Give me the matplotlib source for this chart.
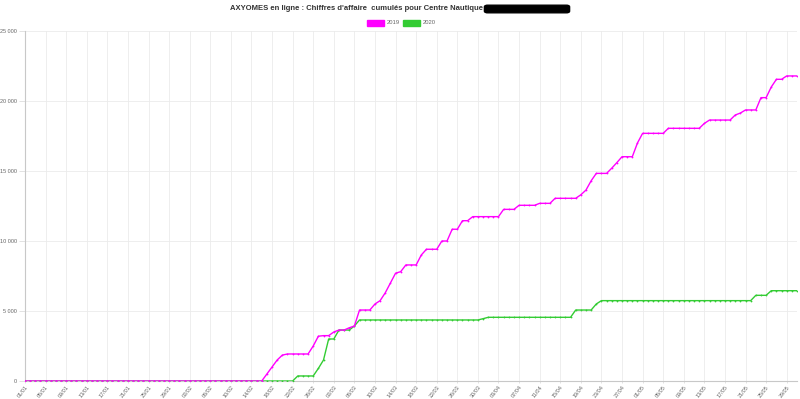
import pandas as pd
import matplotlib
matplotlib.use("Agg")
import matplotlib.pyplot as plt
from matplotlib.patches import FancyBboxPatch, Rectangle
from matplotlib.ticker import FuncFormatter

plt.rcParams["font.family"] = ["Liberation Sans", "DejaVu Sans"]

# daily labels 01/01 -> 31/05 (category axis)
dates = pd.date_range("2019-01-01", "2019-05-31", freq="D")
day_labels = [d.strftime("%d/%m") for d in dates]

# cumulated turnover, one value per day
ca_2019 = [
    0, 0, 0, 0, 0, 0, 0, 0, 0, 0,
    0, 0, 0, 0, 0, 0, 0, 0, 0, 0,
    0, 0, 0, 0, 0, 0, 0, 0, 0, 0,
    0, 0, 0, 0, 0, 0, 0, 0, 0, 0,
    0, 0, 0, 0, 0, 0, 0, 500, 1000, 1500,
    1850, 1930, 1930, 1930, 1930, 1930, 2500, 3200, 3240, 3240,
    3500, 3640, 3640, 3800, 3930, 5070, 5070, 5070, 5500, 5740,
    6300, 7000, 7700, 7810, 8290, 8290, 8290, 9000, 9410, 9410,
    9410, 10000, 10000, 10840, 10840, 11450, 11450, 11740, 11740, 11740,
    11740, 11740, 11740, 12260, 12260, 12260, 12550, 12550, 12550, 12550,
    12690, 12690, 12690, 13050, 13050, 13050, 13050, 13050, 13300, 13640,
    14300, 14830, 14830, 14830, 15200, 15600, 16020, 16020, 16020, 17000,
    17690, 17690, 17690, 17690, 17690, 18050, 18050, 18050, 18050, 18050,
    18050, 18050, 18400, 18640, 18640, 18640, 18640, 18640, 19000, 19140,
    19360, 19360, 19360, 20240, 20240, 21000, 21550, 21550, 21790, 21790,
    21790,
]
ca_2020 = [
    0, 0, 0, 0, 0, 0, 0, 0, 0, 0,
    0, 0, 0, 0, 0, 0, 0, 0, 0, 0,
    0, 0, 0, 0, 0, 0, 0, 0, 0, 0,
    0, 0, 0, 0, 0, 0, 0, 0, 0, 0,
    0, 0, 0, 0, 0, 0, 0, 0, 0, 0,
    0, 0, 0, 360, 360, 360, 360, 900, 1500, 3000,
    3000, 3640, 3640, 3640, 3930, 4360, 4360, 4360, 4360, 4360,
    4360, 4360, 4360, 4360, 4360, 4360, 4360, 4360, 4360, 4360,
    4360, 4360, 4360, 4360, 4360, 4360, 4360, 4360, 4360, 4450,
    4550, 4550, 4550, 4550, 4550, 4550, 4550, 4550, 4550, 4550,
    4550, 4550, 4550, 4550, 4550, 4550, 4550, 5070, 5070, 5070,
    5070, 5500, 5740, 5740, 5740, 5740, 5740, 5740, 5740, 5740,
    5740, 5740, 5740, 5740, 5740, 5740, 5740, 5740, 5740, 5740,
    5740, 5740, 5740, 5740, 5740, 5740, 5740, 5740, 5740, 5740,
    5740, 5740, 6120, 6120, 6120, 6450, 6450, 6450, 6450, 6450,
    6450,
]
assert len(ca_2019) == len(day_labels) == len(ca_2020)

y_ticks = [0, 5000, 10000, 15000, 20000, 25000]
COL_2019 = "#ff00ff"
COL_2020 = "#33cc33"

fig = plt.figure(figsize=(8.0, 3.99), dpi=100)
ax = fig.add_axes([25 / 800, 18 / 399, 772 / 800, 350 / 399])

x = list(range(len(day_labels)))
ax.plot(x, ca_2020, color=COL_2020, lw=1.0, marker="o", ms=1.3, mew=0, zorder=3)
ax.plot(x, ca_2019, color=COL_2019, lw=1.0, marker="o", ms=1.3, mew=0, zorder=4)

ax.set_xlim(0, len(x) - 1)
ax.set_ylim(0, 25000)
ax.set_yticks(y_ticks)
ax.yaxis.set_major_formatter(FuncFormatter(lambda v, p: f"{int(v):,}".replace(",", " ")))
ax.set_xticks(x[::4])
ax.set_xticklabels(day_labels[::4], rotation=52, ha="right", rotation_mode="anchor")

ax.tick_params(axis="y", labelsize=4, colors="#dddddd", labelcolor="#666666",
               length=4, width=0.6, pad=1.5)
ax.tick_params(axis="x", labelsize=4, colors="#dddddd", labelcolor="#666666",
               length=1.5, width=0.6, pad=1)
ax.grid(True, color="#ebebeb", lw=0.6)
ax.set_axisbelow(True)
for side in ("top", "right"):
    ax.spines[side].set_visible(False)
for side in ("left", "bottom"):
    ax.spines[side].set_color("#c8c8c8")
    ax.spines[side].set_linewidth(0.8)

# title + redacted name
fig.text(483 / 800, 1 - 9 / 399, "AXYOMES en ligne : Chiffres d'affaire  cumulés pour Centre Nautique",
         ha="right", va="center", fontsize=5.5, fontweight="bold", color="#333333")
fig.patches.append(FancyBboxPatch((486 / 800, 1 - 12 / 399), 82 / 800, 6 / 399,
                                  boxstyle="round,pad=0.002,rounding_size=0.004",
                                  transform=fig.transFigure, color="black"))

# legend (boxes + labels)
for bx, col, lab in [(367, COL_2019, "2019"), (403, COL_2020, "2020")]:
    fig.patches.append(Rectangle((bx / 800, 1 - 26 / 399), 17 / 800, 6 / 399,
                                 transform=fig.transFigure, color=col))
    fig.text((bx + 20) / 800, 1 - 23 / 399, lab, ha="left", va="center",
             fontsize=4.2, color="#666666")

fig.savefig("out.png", dpi=100)
